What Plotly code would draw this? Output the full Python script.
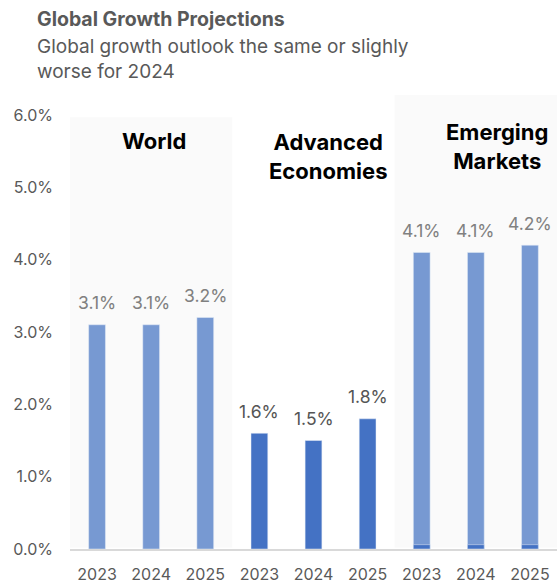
import plotly.graph_objects as go

# Growth projections (% change), by region and year
groups = ["World", "Advanced Economies", "Emerging Markets"]
years = ["2023", "2024", "2025"]
world = [3.1, 3.1, 3.2]
advanced = [1.6, 1.5, 1.8]
emerging = [4.1, 4.1, 4.2]
emerging_base = [0.06, 0.06, 0.06]
y_ticks = [0, 1, 2, 3, 4, 5, 6]

LIGHT = "#7799D2"
DARK = "#4472C4"
TEXT = "#595959"
FONT = "Inter"

# one x slot per (region, year) pair
x_world = [0, 1, 2]
x_adv = [3, 4, 5]
x_em = [6, 7, 8]
tick_vals = x_world + x_adv + x_em
tick_text = years * 3

fig = go.Figure()
fig.add_bar(x=x_world, y=world, marker_color=LIGHT, width=0.31)
fig.add_bar(x=x_adv, y=advanced, marker_color=DARK, width=0.31)
fig.add_bar(x=x_em, y=emerging, marker_color=LIGHT, width=0.31)
fig.add_bar(x=x_em, y=emerging_base, marker_color=DARK, width=0.31)

# light panels behind the World and Emerging Markets groups
fig.add_shape(type="rect", xref="x", yref="y", x0=-0.5, x1=2.5, y0=0.02, y1=5.97,
              fillcolor="#FAFAFA", line_width=0, layer="below")
fig.add_shape(type="rect", xref="x", yref="y", x0=5.5, x1=8.6, y0=0.02, y1=6.28,
              fillcolor="#FAFAFA", line_width=0, layer="below")

annotations = []
# value labels above each bar
for xs, vals, col in [(x_world, world, "#808080"), (x_adv, advanced, "#555555"),
                      (x_em, emerging, "#808080")]:
    for x, v in zip(xs, vals):
        annotations.append(dict(x=x, y=v, xref="x", yref="y", text=f"{v:.1f}%",
                                showarrow=False, yanchor="middle", yshift=22,
                                font=dict(family=FONT, size=17.5, color=col)))

# region headings
for label, px, py in [("World", 154, 141),
                      ("Advanced<br>Economies", 328, 156),
                      ("Emerging<br>Markets", 497, 146)]:
    annotations.append(dict(x=(px - 69.5) / 487.5, y=(549 - py) / 454, xref="paper",
                            yref="paper", text=f"<b>{label}</b>", showarrow=False,
                            xanchor="center", yanchor="middle",
                            font=dict(family=FONT, size=22, color="black")))

# title block
annotations.append(dict(x=34, y=19, xref="paper", yref="paper", text="<b>Global Growth Projections</b>",
                        showarrow=False, xanchor="left", yanchor="middle",
                        font=dict(family=FONT, size=19.5, color=TEXT)))
annotations.append(dict(x=34, y=59, xref="paper", yref="paper",
                        text="Global growth outlook the same or slighly<br>worse for 2024",
                        showarrow=False, xanchor="left", yanchor="middle", align="left",
                        font=dict(family=FONT, size=19, color=TEXT)))

W, H = 557, 583
L, R, T, B = 69.5, 0, 95, 34
pw, ph = W - L - R, H - T - B
for a in annotations[-2:]:
    a["x"] = (a["x"] - L) / pw
    a["y"] = (H - B - a["y"]) / ph

fig.update_layout(
    width=W, height=H,
    margin=dict(l=L, r=R, t=T, b=B, pad=0),
    paper_bgcolor="white", plot_bgcolor="white",
    barmode="overlay", showlegend=False,
    annotations=annotations,
    font=dict(family=FONT, color=TEXT),
)
fig.update_xaxes(range=[-0.5, 8.5], tickvals=tick_vals, ticktext=tick_text,
                 showgrid=False, zeroline=False, showline=True, linecolor="#D9D9D9",
                 linewidth=2, ticks="", ticklabelstandoff=10,
                 tickfont=dict(family=FONT, size=16, color=TEXT))
fig.update_yaxes(range=[0, 6 * 454 / 434], tickvals=y_ticks,
                 ticktext=[f"{t:.1f}%" for t in y_ticks],
                 showgrid=False, zeroline=False, showline=False, ticks="",
                 ticklabelstandoff=16,
                 tickfont=dict(family=FONT, size=16, color=TEXT))

fig.write_html("out.html")
